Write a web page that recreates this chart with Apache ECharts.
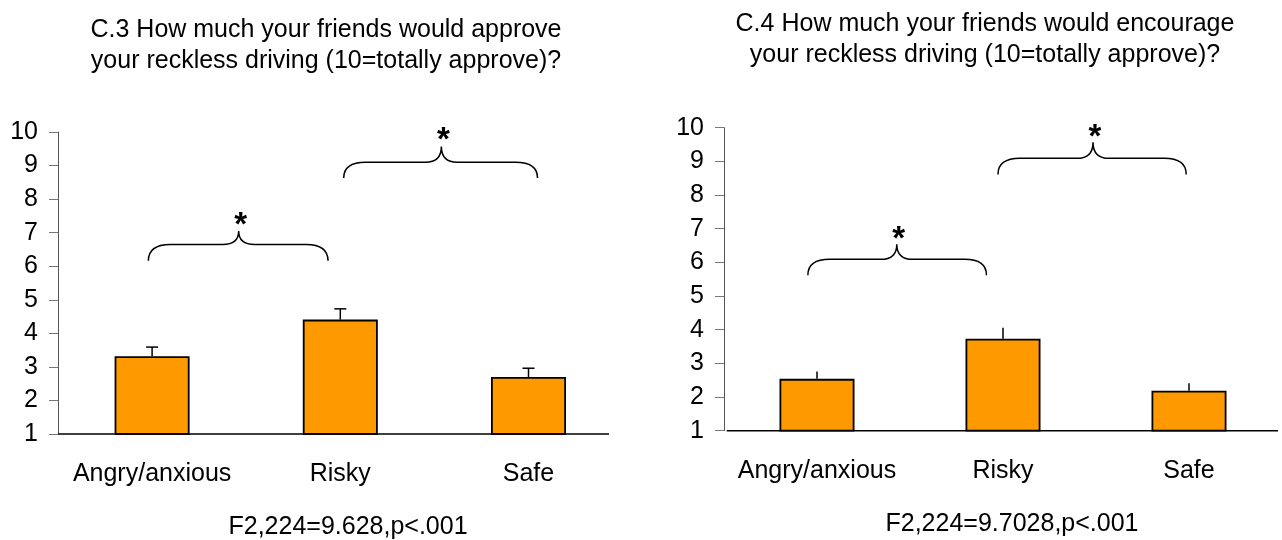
<!DOCTYPE html>
<html>
<head>
<meta charset="utf-8">
<script src="https://cdn.jsdelivr.net/npm/echarts@6/dist/echarts.min.js"></script>
<style>
html,body{margin:0;padding:0;background:#fff;}
#chart{width:1282px;height:540px;}
</style>
</head>
<body>
<div id="chart"></div>
<script>
// ---- data ----
const categories = ['Angry/anxious', 'Risky', 'Safe'];
const leftMeans = [3.32, 4.41, 2.70];
const leftUpper = [3.59, 4.73, 2.96];
const rightMeans = [2.54, 3.73, 2.19];
const rightUpper = [2.76, 4.06, 2.41];
const yMin = 1, yMax = 10, yStep = 1;
const leftTitle = 'C.3 How much your friends would approve\nyour reckless driving (10=totally approve)?';
const rightTitle = 'C.4 How much your friends would encourage\nyour reckless driving (10=totally approve)?';
const leftStat = 'F2,224=9.628,p<.001';
const rightStat = 'F2,224=9.7028,p<.001';
// braces: [startCat, endCat, tipCat, yEnds, yFlat, yTip, yStar]
const leftBraces = [
  [-0.02, 0.935, 0.46, 6.16, 6.65, 7.05, 7.45],
  [1.018, 2.048, 1.537, 8.63, 9.10, 9.57, 9.97]
];
const rightBraces = [
  [-0.049, 0.911, 0.429, 5.62, 6.09, 6.54, 6.91],
  [0.973, 1.985, 1.484, 8.61, 9.09, 9.57, 9.93]
];

const FONT = "'Liberation Sans', Arial, sans-serif";
const chart = echarts.init(document.getElementById('chart'), null, {renderer: 'canvas'});

function errData(means, upper) {
  return means.map((m, i) => [i, upper[i], m]);
}
function errRender(capW) {
  return function (params, api) {
    const top = api.coord([api.value(0), api.value(1)]);
    const bot = api.coord([api.value(0), api.value(2)]);
    const children = [{
      type: 'line',
      shape: {x1: top[0], y1: top[1], x2: bot[0], y2: bot[1]},
      style: {stroke: '#000', lineWidth: 1.5}
    }];
    if (capW > 0) {
      children.push({
        type: 'line',
        shape: {x1: top[0] - capW / 2, y1: top[1], x2: top[0] + capW / 2, y2: top[1]},
        style: {stroke: '#000', lineWidth: 1.5}
      });
    }
    return {type: 'group', children: children};
  };
}
function braceRender(params, api) {
  const base = api.coord([0, yMin])[0];
  const bw = api.size([1, 0])[0];
  const X = f => base + f * bw;
  const Y = v => api.coord([0, v])[1];
  const x0 = X(api.value(0)), x1 = X(api.value(1)), xt = X(api.value(2));
  const ye = Y(api.value(3)), yf = Y(api.value(4)), yt = Y(api.value(5)), ys = Y(api.value(6));
  const r = 22, c = 16;
  const d = 'M' + x0 + ' ' + ye +
    ' Q' + x0 + ' ' + yf + ' ' + (x0 + r) + ' ' + yf +
    ' L' + (xt - c) + ' ' + yf +
    ' Q' + xt + ' ' + yf + ' ' + xt + ' ' + yt +
    ' Q' + xt + ' ' + yf + ' ' + (xt + c) + ' ' + yf +
    ' L' + (x1 - r) + ' ' + yf +
    ' Q' + x1 + ' ' + yf + ' ' + x1 + ' ' + ye;
  return {
    type: 'group',
    children: [
      {type: 'path', shape: {pathData: d}, style: {fill: 'none', stroke: '#000', lineWidth: 1.5}},
      {type: 'text', x: xt + 2, y: ys + 8,
        style: {text: '*', fill: '#000', font: 'bold 33px ' + FONT, align: 'center', verticalAlign: 'middle'}}
    ]
  };
}

const yAxisCommon = {
  type: 'value', min: yMin, max: yMax, interval: yStep,
  axisLine: {show: true, lineStyle: {color: '#555', width: 1}},
  axisTick: {show: true, length: 9, lineStyle: {color: '#777', width: 1}},
  axisLabel: {color: '#000', fontSize: 25, fontFamily: FONT, margin: 20},
  splitLine: {show: false}
};
const xAxisCommon = {
  type: 'category', data: categories,
  axisLine: {show: false}, axisTick: {show: false},
  axisLabel: {color: '#000', fontSize: 25, fontFamily: FONT, margin: 28, interval: 0, hideOverlap: false}
};
const barCommon = {
  type: 'bar', barWidth: 75,
  itemStyle: {color: '#FF9900', borderColor: '#000', borderWidth: 1.8},
  clip: true, silent: true
};

chart.setOption({
  animation: false,
  backgroundColor: '#fff',
  title: [
    {text: leftTitle, left: 321, top: 10, textAlign: 'center',
      textStyle: {fontSize: 25, fontWeight: 'normal', color: '#000', fontFamily: FONT, lineHeight: 31}},
    {text: rightTitle, left: 980, top: 4, textAlign: 'center',
      textStyle: {fontSize: 25, fontWeight: 'normal', color: '#000', fontFamily: FONT, lineHeight: 31}},
    {text: leftStat, left: 343, top: 510, textAlign: 'center',
      textStyle: {fontSize: 25, fontWeight: 'normal', color: '#000', fontFamily: FONT}},
    {text: rightStat, left: 1007, top: 507, textAlign: 'center',
      textStyle: {fontSize: 25, fontWeight: 'normal', color: '#000', fontFamily: FONT}}
  ],
  grid: [
    {left: 58, top: 132, width: 564.6, height: 302},
    {left: 724, top: 127.7, width: 564.6, height: 303}
  ],
  xAxis: [
    Object.assign({gridIndex: 0}, xAxisCommon),
    Object.assign({gridIndex: 1}, xAxisCommon)
  ],
  yAxis: [
    Object.assign({gridIndex: 0}, yAxisCommon),
    Object.assign({gridIndex: 1}, yAxisCommon)
  ],
  graphic: [
    {type: 'line', shape: {x1: 58, y1: 434, x2: 609, y2: 434}, style: {stroke: '#000', lineWidth: 1.5}, z: 10},
    {type: 'line', shape: {x1: 726.7, y1: 430.7, x2: 1278, y2: 430.7}, style: {stroke: '#000', lineWidth: 1.5}, z: 10}
  ],
  series: [
    Object.assign({xAxisIndex: 0, yAxisIndex: 0, data: leftMeans}, barCommon),
    Object.assign({xAxisIndex: 1, yAxisIndex: 1, data: rightMeans}, barCommon),
    {type: 'custom', xAxisIndex: 0, yAxisIndex: 0, data: errData(leftMeans, leftUpper),
      renderItem: errRender(12), clip: false, silent: true, z: 3},
    {type: 'custom', xAxisIndex: 1, yAxisIndex: 1, data: errData(rightMeans, rightUpper),
      renderItem: errRender(0), clip: false, silent: true, z: 3},
    {type: 'custom', xAxisIndex: 0, yAxisIndex: 0, data: leftBraces,
      encode: {x: 0, y: 4}, renderItem: braceRender, clip: false, silent: true},
    {type: 'custom', xAxisIndex: 1, yAxisIndex: 1, data: rightBraces,
      encode: {x: 0, y: 4}, renderItem: braceRender, clip: false, silent: true}
  ]
});
</script>
</body>
</html>
